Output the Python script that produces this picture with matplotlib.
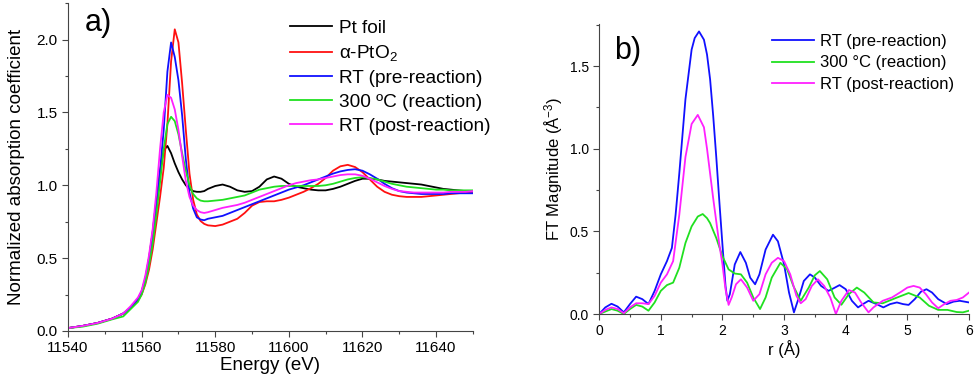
# XANES y EXAFS (Pt L3)
import matplotlib.pyplot as plt
from matplotlib.ticker import MultipleLocator

plt.rcParams['font.family'] = ['Liberation Sans', 'DejaVu Sans']
plt.rcParams['mathtext.fontset'] = 'custom'
plt.rcParams['mathtext.rm'] = 'Liberation Sans'
plt.rcParams['mathtext.it'] = 'Liberation Sans:italic'

# -------------------------
# a) XANES
# -------------------------
energia = [11540, 11544, 11548, 11552, 11555, 11557, 11559,
           11560, 11561, 11562, 11563, 11564, 11565, 11566, 11567, 11568, 11569,
           11570, 11571, 11572, 11573, 11574, 11575, 11576, 11577, 11578,
           11580, 11582, 11584, 11586, 11588, 11590, 11592, 11594, 11596, 11598,
           11600, 11602, 11604, 11606, 11608, 11610, 11612, 11614, 11616, 11618,
           11620, 11622, 11624, 11626, 11628, 11630, 11632, 11634, 11636, 11638,
           11640, 11642, 11644, 11646, 11648, 11650]

pt_foil = [0.02, 0.035, 0.055, 0.085, 0.12, 0.16, 0.22,
           0.27, 0.36, 0.5, 0.68, 0.9, 1.1, 1.24, 1.27, 1.22, 1.15,
           1.09, 1.04, 1.0, 0.975, 0.96, 0.955, 0.955, 0.96, 0.975,
           0.995, 1.005, 0.99, 0.965, 0.955, 0.96, 0.99, 1.04, 1.06, 1.045,
           1.01, 0.99, 0.98, 0.97, 0.965, 0.965, 0.975, 0.99, 1.01, 1.03,
           1.045, 1.045, 1.04, 1.03, 1.025, 1.02, 1.015, 1.01, 1.005, 0.995,
           0.985, 0.975, 0.97, 0.965, 0.96, 0.96]

pto2 = [0.02, 0.035, 0.055, 0.085, 0.12, 0.16, 0.21,
        0.25, 0.32, 0.42, 0.56, 0.74, 0.92, 1.12, 1.42, 1.85, 2.07,
        1.98, 1.7, 1.38, 1.08, 0.9, 0.8, 0.755, 0.735, 0.725,
        0.72, 0.73, 0.75, 0.77, 0.81, 0.86, 0.885, 0.89, 0.89, 0.9,
        0.915, 0.935, 0.955, 0.98, 1.01, 1.05, 1.1, 1.13, 1.14, 1.125,
        1.09, 1.04, 0.99, 0.955, 0.935, 0.925, 0.92, 0.92, 0.92, 0.925,
        0.93, 0.935, 0.94, 0.945, 0.95, 0.955]

rt_pre = [0.02, 0.035, 0.055, 0.085, 0.12, 0.16, 0.22,
          0.27, 0.35, 0.47, 0.63, 0.85, 1.1, 1.38, 1.78, 1.98, 1.88,
          1.72, 1.48, 1.18, 0.95, 0.84, 0.78, 0.765, 0.76, 0.77,
          0.78, 0.79, 0.81, 0.83, 0.85, 0.87, 0.89, 0.91, 0.93, 0.95,
          0.97, 0.985, 1.0, 1.02, 1.04, 1.06, 1.08, 1.095, 1.105, 1.11,
          1.1, 1.075, 1.045, 1.01, 0.98, 0.96, 0.95, 0.945, 0.94, 0.94,
          0.94, 0.94, 0.945, 0.945, 0.945, 0.945]

c300 = [0.02, 0.03, 0.05, 0.08, 0.1, 0.15, 0.2,
        0.25, 0.33, 0.45, 0.6, 0.8, 1.02, 1.25, 1.42, 1.47, 1.44,
        1.35, 1.22, 1.1, 1.0, 0.94, 0.91, 0.895, 0.89, 0.89,
        0.895, 0.9, 0.91, 0.92, 0.93, 0.95, 0.97, 0.98, 0.99, 0.995,
        0.995, 0.995, 0.995, 0.995, 0.995, 1.0, 1.01, 1.025, 1.04, 1.05,
        1.055, 1.05, 1.04, 1.025, 1.01, 1.0, 0.99, 0.985, 0.98, 0.975,
        0.97, 0.97, 0.965, 0.965, 0.965, 0.965]

rt_post = [0.02, 0.035, 0.055, 0.085, 0.12, 0.17, 0.23,
           0.28, 0.38, 0.52, 0.7, 0.95, 1.25, 1.5, 1.62, 1.6, 1.52,
           1.38, 1.2, 1.03, 0.92, 0.86, 0.83, 0.815, 0.81, 0.815,
           0.83, 0.845, 0.855, 0.865, 0.88, 0.9, 0.92, 0.94, 0.96, 0.98,
           1.0, 1.015, 1.025, 1.035, 1.04, 1.05, 1.06, 1.07, 1.075, 1.075,
           1.065, 1.045, 1.02, 0.995, 0.975, 0.96, 0.955, 0.95, 0.95, 0.95,
           0.95, 0.95, 0.955, 0.955, 0.955, 0.96]

# -------------------------
# b) FT EXAFS
# -------------------------
r_pre = [0, 0.1, 0.2, 0.3, 0.4, 0.5, 0.6, 0.7, 0.8, 0.9, 1.0, 1.1, 1.18, 1.24,
         1.3, 1.4, 1.5, 1.55, 1.62, 1.7, 1.75, 1.8, 1.85, 1.9, 1.95, 2.0, 2.05,
         2.08, 2.12, 2.2, 2.29, 2.38, 2.45, 2.53, 2.6, 2.7, 2.82, 2.9, 3.0, 3.08,
         3.16, 3.24, 3.32, 3.42, 3.5, 3.6, 3.72, 3.8, 3.9, 4.0, 4.1, 4.2, 4.28,
         4.37, 4.5, 4.61, 4.72, 4.83, 4.93, 5.02, 5.12, 5.22, 5.31, 5.4, 5.5,
         5.64, 5.75, 5.85, 6.0]
ft_pre = [0, 0.04, 0.062, 0.045, 0.01, 0.06, 0.105, 0.09, 0.06, 0.14, 0.24, 0.32, 0.4, 0.6,
          0.85, 1.3, 1.6, 1.67, 1.71, 1.66, 1.57, 1.42, 1.2, 0.95, 0.68, 0.42, 0.17,
          0.08, 0.12, 0.3, 0.375, 0.31, 0.22, 0.18, 0.24, 0.39, 0.48, 0.44, 0.3, 0.13,
          0.01, 0.1, 0.2, 0.24, 0.22, 0.17, 0.14, 0.155, 0.175, 0.15, 0.08, 0.04, 0.06,
          0.08, 0.06, 0.04, 0.06, 0.07, 0.06, 0.055, 0.09, 0.135, 0.15, 0.13, 0.09,
          0.06, 0.075, 0.08, 0.07]

r_300 = [0, 0.1, 0.2, 0.3, 0.4, 0.5, 0.6, 0.7, 0.8, 0.9, 1.0, 1.1, 1.2, 1.3, 1.4,
         1.5, 1.6, 1.68, 1.75, 1.8, 1.9, 2.0, 2.1, 2.2, 2.3, 2.4, 2.5, 2.61, 2.7,
         2.8, 2.94, 3.05, 3.15, 3.27, 3.4, 3.5, 3.58, 3.7, 3.82, 3.93, 4.05, 4.18,
         4.3, 4.45, 4.6, 4.8, 5.02, 5.2, 5.35, 5.5, 5.65, 5.8, 5.9, 6.0]
ft_300 = [0, 0.015, 0.03, 0.02, 0.0, 0.03, 0.055, 0.045, 0.02, 0.07, 0.14, 0.175, 0.19, 0.28, 0.43,
          0.53, 0.59, 0.605, 0.58, 0.55, 0.46, 0.35, 0.27, 0.245, 0.24, 0.19, 0.1, 0.03, 0.1,
          0.22, 0.31, 0.27, 0.17, 0.08, 0.16, 0.235, 0.26, 0.21, 0.1, 0.056, 0.12, 0.16,
          0.13, 0.07, 0.065, 0.095, 0.127, 0.1, 0.05, 0.025, 0.025, 0.012, 0.01, 0.02]

r_post = [0, 0.1, 0.2, 0.3, 0.4, 0.5, 0.6, 0.7, 0.8, 0.9, 1.0, 1.1, 1.2, 1.3, 1.4,
          1.5, 1.6, 1.7, 1.75, 1.8, 1.85, 1.9, 1.95, 2.0, 2.05, 2.1, 2.15, 2.22, 2.3,
          2.4, 2.5, 2.6, 2.7, 2.8, 2.9, 3.0, 3.1, 3.2, 3.27, 3.35, 3.45, 3.55, 3.65,
          3.75, 3.84, 3.93, 4.05, 4.15, 4.25, 4.37, 4.45, 4.6, 4.75, 4.9, 5.0, 5.1,
          5.2, 5.3, 5.4, 5.5, 5.6, 5.7, 5.8, 5.9, 6.0]
ft_post = [0, 0.025, 0.04, 0.03, 0.005, 0.04, 0.065, 0.065, 0.06, 0.11, 0.19, 0.24, 0.32, 0.6, 0.95,
           1.15, 1.205, 1.13, 1.0, 0.85, 0.7, 0.56, 0.42, 0.3, 0.15, 0.055, 0.1, 0.18, 0.21,
           0.16, 0.08, 0.12, 0.24, 0.31, 0.34, 0.32, 0.24, 0.11, 0.065, 0.09, 0.17, 0.21, 0.17,
           0.1, 0.0, 0.08, 0.145, 0.13, 0.07, 0.01, 0.04, 0.08, 0.1, 0.135, 0.16, 0.17,
           0.16, 0.12, 0.07, 0.035, 0.06, 0.08, 0.085, 0.1, 0.13]

NEGRO = 'black'
ROJO = '#ff1010'
AZUL = '#1010ff'
VERDE = '#20e020'
MAGENTA = '#ff20ff'
EJES = '#444444'

fig = plt.figure(figsize=(9.79, 3.86), dpi=100)
ax1 = fig.add_axes([0.0695, 0.1425, 0.4135, 0.8495])
ax2 = fig.add_axes([0.612, 0.1865, 0.3778, 0.7513])

lw = 1.3
ax1.plot(energia, pt_foil, color=NEGRO, lw=lw, label='Pt foil')
ax1.plot(energia, pto2, color=ROJO, lw=lw, label='α-PtO$_2$')
ax1.plot(energia, rt_pre, color=AZUL, lw=lw, label='RT (pre-reaction)')
ax1.plot(energia, c300, color=VERDE, lw=lw, label='300 ºC (reaction)')
ax1.plot(energia, rt_post, color=MAGENTA, lw=lw, label='RT (post-reaction)')

ax1.set_xlim(11540, 11650)
ax1.set_ylim(0, 2.25)
ax1.xaxis.set_major_locator(MultipleLocator(20))
ax1.xaxis.set_minor_locator(MultipleLocator(10))
ax1.yaxis.set_major_locator(MultipleLocator(0.5))
ax1.yaxis.set_minor_locator(MultipleLocator(0.25))
ax1.set_xlabel('Energy (eV)', fontsize=13.5, labelpad=1)
ax1.set_ylabel('Normalized absorption coefficient', fontsize=13.5, labelpad=8)
ax1.tick_params(labelsize=11)
ax1.text(0.042, 0.985, 'a)', transform=ax1.transAxes, fontsize=22, va='top')
ax1.legend(loc='upper left', bbox_to_anchor=(0.52, 0.985), frameon=False, fontsize=13.7,
           handlelength=2.2, handletextpad=0.4, labelspacing=0.34, borderaxespad=0.2)

ax2.plot(r_pre, ft_pre, color=AZUL, lw=lw, label='RT (pre-reaction)')
ax2.plot(r_300, ft_300, color=VERDE, lw=lw, label='300 °C (reaction)')
ax2.plot(r_post, ft_post, color=MAGENTA, lw=lw, label='RT (post-reaction)')

ax2.set_xlim(0, 6)
ax2.set_ylim(0, 1.755)
ax2.xaxis.set_major_locator(MultipleLocator(1))
ax2.xaxis.set_minor_locator(MultipleLocator(0.5))
ax2.yaxis.set_major_locator(MultipleLocator(0.5))
ax2.yaxis.set_minor_locator(MultipleLocator(0.25))
ax2.set_xlabel('r (Å)', fontsize=12, labelpad=1)
ax2.set_ylabel('FT Magnitude (Å$^{-3}$)', fontsize=12, labelpad=3)
ax2.tick_params(labelsize=10)
ax2.text(0.04, 0.96, 'b)', transform=ax2.transAxes, fontsize=22, va='top')
ax2.legend(loc='upper left', bbox_to_anchor=(0.44, 1.0), frameon=False, fontsize=12,
           handlelength=2.5, handletextpad=0.4, labelspacing=0.38, borderaxespad=0.2)

for ax in (ax1, ax2):
    ax.spines['top'].set_visible(False)
    ax.spines['right'].set_visible(False)
    ax.spines['left'].set_color(EJES)
    ax.spines['bottom'].set_color(EJES)
    ax.tick_params(which='major', direction='out', length=4, width=0.8, color=EJES)
    ax.tick_params(which='minor', direction='out', length=2.5, width=0.8, color=EJES)

fig.savefig('out.png', dpi=100)
